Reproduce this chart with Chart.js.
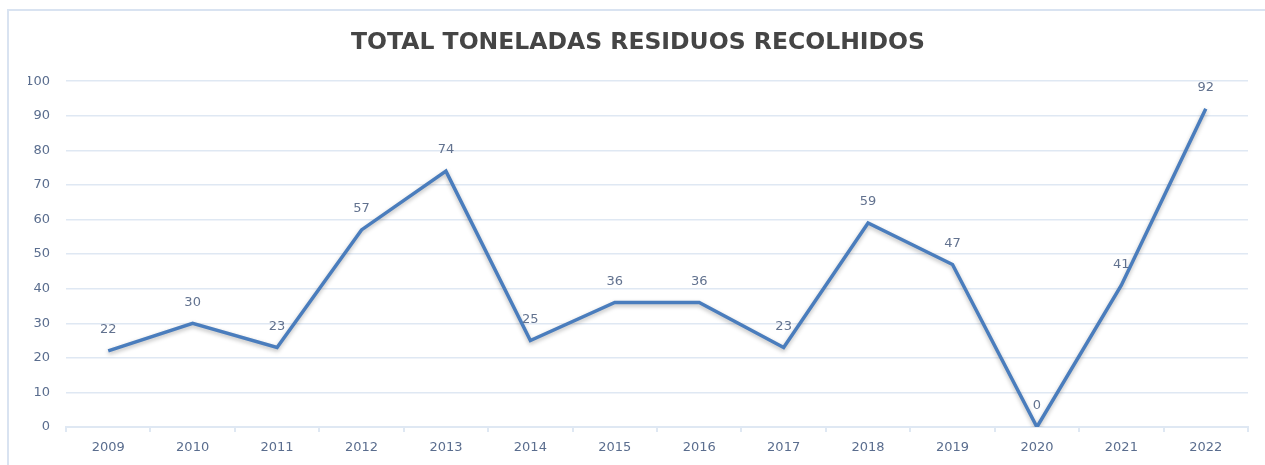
<!DOCTYPE html>
<html>
<head>
<meta charset="utf-8">
<script src="https://cdn.jsdelivr.net/npm/chart.js@4/dist/chart.umd.min.js"></script>
<style>
  html, body { margin: 0; padding: 0; background: #fff; }
  #wrap { width: 1265px; height: 465px; }
</style>
</head>
<body>
<div id="wrap"><canvas id="myChart"></canvas></div>
<script>
// chart data
var years = ["2009", "2010", "2011", "2012", "2013", "2014", "2015", "2016", "2017", "2018", "2019", "2020", "2021", "2022"];
var toneladas = [22, 30, 23, 57, 74, 25, 36, 36, 23, 59, 47, 0, 41, 92];
var yTicks = [0, 10, 20, 30, 40, 50, 60, 70, 80, 90, 100];

var gridColor = "#dfe8f3";
var tickColor = "#5a6d8e";

// light frame around the chart, like the original sheet box
var framePlugin = {
  id: "frame",
  beforeDraw: function (chart) {
    var ctx = chart.ctx;
    ctx.save();
    ctx.strokeStyle = "#d9e3f1";
    ctx.lineWidth = 2;
    ctx.beginPath();
    ctx.moveTo(8, chart.height);
    ctx.lineTo(8, 10);
    ctx.lineTo(chart.width, 10);
    ctx.stroke();
    ctx.restore();
  }
};

// soft shadow under the line
var lineShadow = {
  id: "lineShadow",
  beforeDatasetDraw: function (chart) {
    var ctx = chart.ctx;
    ctx.save();
    ctx.shadowColor = "rgba(0,0,0,0.28)";
    ctx.shadowBlur = 4;
    ctx.shadowOffsetY = 2;
  },
  afterDatasetDraw: function (chart) {
    chart.ctx.restore();
  }
};

// value labels over each point
var valueLabels = {
  id: "valueLabels",
  afterDatasetsDraw: function (chart) {
    var ctx = chart.ctx;
    var meta = chart.getDatasetMeta(0);
    ctx.save();
    ctx.font = "13px 'DejaVu Sans', sans-serif";
    ctx.fillStyle = "#62728f";
    ctx.textAlign = "center";
    ctx.textBaseline = "middle";
    meta.data.forEach(function (pt, i) {
      ctx.fillText(String(toneladas[i]), pt.x, pt.y - 21);
    });
    ctx.restore();
  }
};

var ctx = document.getElementById("myChart").getContext("2d");
var chart = new Chart(ctx, {
  type: "line",
  data: {
    labels: years,
    datasets: [
      {
        label: "Toneladas",
        data: toneladas,
        borderColor: "#4a7dbd",
        borderWidth: 3.5,
        pointRadius: 0,
        tension: 0,
        fill: false
      }
    ]
  },
  options: {
    responsive: true,
    maintainAspectRatio: false,
    animation: false,
    layout: { padding: { left: 28, right: 17, top: 0, bottom: 0 } },
    plugins: {
      legend: { display: false },
      tooltip: { enabled: false },
      title: {
        display: true,
        text: "TOTAL TONELADAS RESIDUOS RECOLHIDOS",
        color: "#454545",
        font: { family: "'DejaVu Sans', sans-serif", size: 23.5, weight: "bold" },
        padding: { top: 29, bottom: 24 }
      }
    },
    scales: {
      x: {
        offset: true,
        afterFit: function (scale) { scale.height = 38; },
        grid: {
          offset: true,
          drawOnChartArea: false,
          drawTicks: true,
          tickLength: 5,
          color: gridColor,
          lineWidth: 2
        },
        border: { color: gridColor, width: 2 },
        ticks: {
          color: tickColor,
          font: { family: "'DejaVu Sans', sans-serif", size: 13 },
          padding: 8,
          maxRotation: 0
        }
      },
      y: {
        min: 0,
        max: 100,
        afterFit: function (scale) { scale.width = 38; },
        afterBuildTicks: function (scale) {
          scale.ticks = yTicks.map(function (v) { return { value: v }; });
        },
        grid: { color: gridColor, lineWidth: 1.5, drawTicks: false },
        border: { display: false },
        ticks: {
          color: tickColor,
          font: { family: "'DejaVu Sans', sans-serif", size: 13 },
          padding: 16
        }
      }
    }
  },
  plugins: [framePlugin, lineShadow, valueLabels]
});
</script>
</body>
</html>
